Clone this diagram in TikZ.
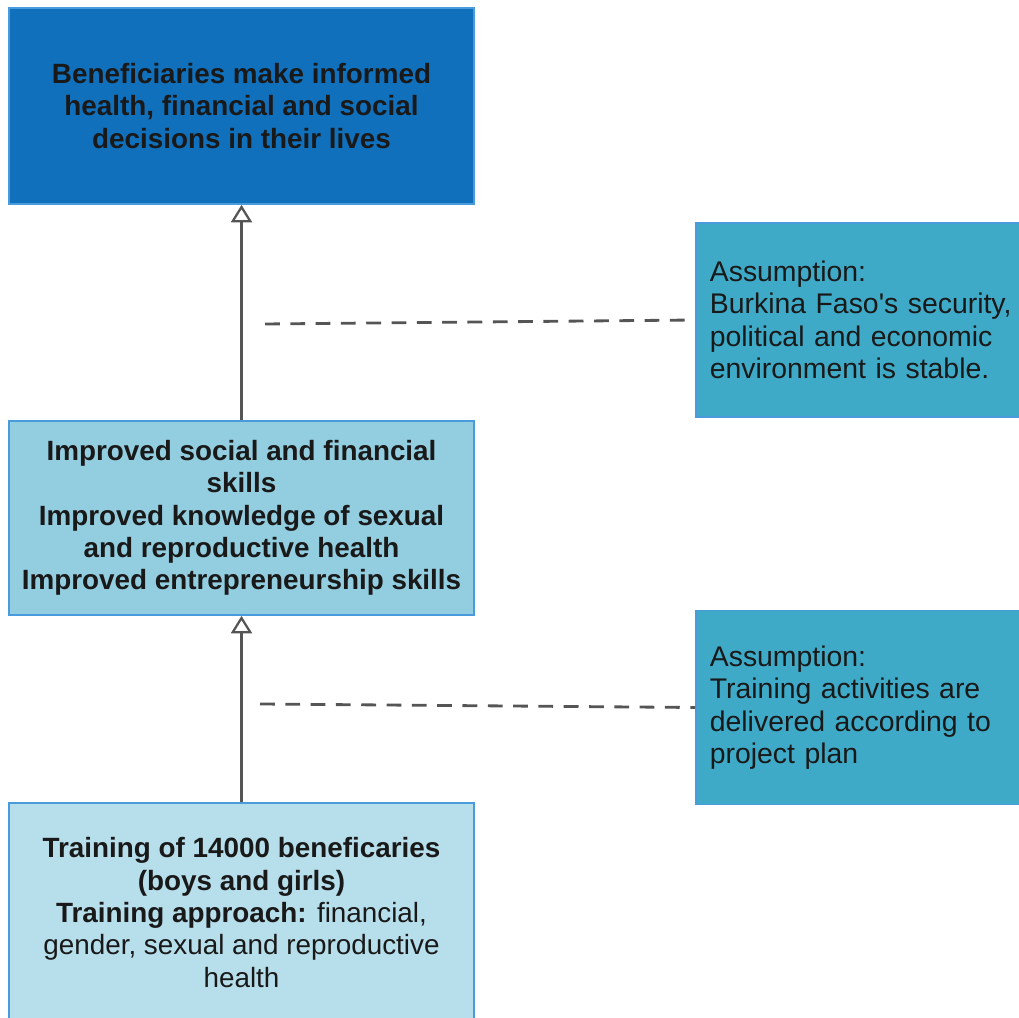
\documentclass[tikz,border=0pt]{standalone}
\usepackage{fontspec}
\setmainfont{Liberation Sans}
\usetikzlibrary{arrows.meta}

\definecolor{goalblue}{HTML}{1170BC}
\definecolor{outcomeblue}{HTML}{93CDE0}
\definecolor{outputblue}{HTML}{B6DEEB}
\definecolor{assumblue}{HTML}{3FAAC7}
\definecolor{edgeblue}{HTML}{4A9BDC}
\definecolor{linegray}{HTML}{555555}

\begin{document}
\begin{tikzpicture}[x=0.025cm, y=0.025cm, line cap=butt, line join=miter,
		box/.style={draw=edgeblue, line width=1.2pt, minimum width=465*0.025cm, align=center, inner sep=0pt,
			font=\fontsize{19.8}{23}\selectfont\bfseries, text=black!90},
		assum/.style={draw=edgeblue, line width=1.2pt, fill=assumblue, anchor=west, minimum width=329*0.025cm,
			minimum height=194*0.025cm, text width=330*0.025cm, inner xsep=14*0.025cm, align=left,
			font=\fontsize{20.2}{23}\selectfont, text=black!90},
		link/.style={draw=linegray, line width=2pt, -{Triangle[open, fill=white, width=15pt, length=12.5pt, line width=1.6pt]}},
		hint/.style={draw=linegray, line width=2pt, dash pattern=on 10.5pt off 7.5pt}]
			\useasboundingbox (0,0) rectangle (1019,1018);
			\clip (0,0) rectangle (1019,1018);
			
			\node[box, fill=goalblue, minimum height=196*0.025cm] (goal) at (241.5,912)
				{Beneficiaries make informed\\health, financial and social\\decisions in their lives};
			\node[box, fill=outcomeblue, minimum height=194*0.025cm] (outcome) at (241.5,500)
				{Improved social and financial\\skills\\Improved knowledge of sexual\\and reproductive health\\Improved entrepreneurship skills};
			\node[box, fill=outputblue, minimum height=219*0.025cm] (output) at (241.5,105.5)
				{Training of 14000 beneficaries\\(boys and girls)\\Training approach: \mdseries financial,\\\mdseries gender, sexual and reproductive\\\mdseries health};
			
			\node[assum] (assumA) at (695,698)
				{Assumption:\\Burkina Faso\textquotesingle s security,\\political and economic\\environment is stable.};
			\node[assum] (assumB) at (695,310.5)
				{Assumption:\\Training activities are\\delivered according to\\project plan};
			
			\draw[link] (outcome) -- (goal);
			\draw[link] (output) -- (outcome);
			
			\coordinate (hintA) at (265,694);
			\coordinate (hintB) at (260,314);
			\draw[hint] (hintA) -- (assumA.west);
			\draw[hint] (hintB) -- (assumB.west);
		\end{tikzpicture}
\end{document}
